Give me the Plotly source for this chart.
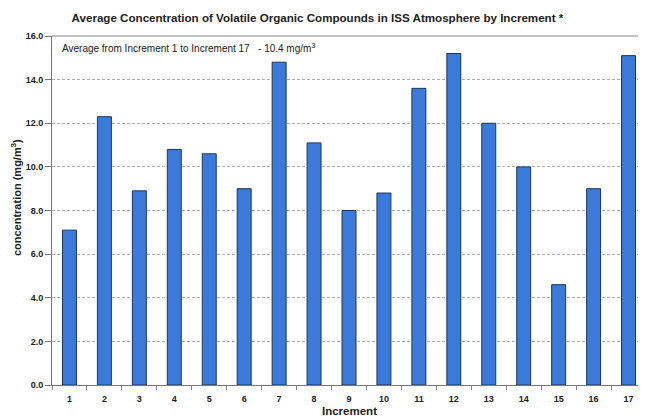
import plotly.graph_objects as go

increments = [str(i) for i in range(1, 18)]
concentration = [7.1, 12.3, 8.9, 10.8, 10.6, 9.0, 14.8, 11.1, 8.0, 8.8,
                 13.6, 15.2, 12.0, 10.0, 4.6, 9.0, 15.1]
y_ticks = [0, 2, 4, 6, 8, 10, 12, 14, 16]
y_tick_labels = [f"{v:.1f}" for v in y_ticks]

title_text = "Average Concentration of Volatile Organic Compounds in ISS Atmosphere by Increment *"
note_text = "Average from Increment 1 to Increment 17   - 10.4 mg/m<sup>3</sup>"
y_title = "concentration (mg/m<sup>3</sup>)"
x_title = "Increment"

# page body has an 8px default margin; figure is sized/offset to compensate
W, H = 638, 410

fig = go.Figure()
fig.add_trace(go.Bar(
    x=increments, y=concentration,
    marker=dict(color="#3c7ad9", line=dict(color="#1d3558", width=1)),
))

font_family = "Liberation Sans, Arial, sans-serif"
txt = "#222"

fig.update_layout(
    width=W, height=H,
    margin=dict(l=44, r=0, t=28, b=33),
    paper_bgcolor="white", plot_bgcolor="white",
    bargap=0.6,
    showlegend=False,
    font=dict(family=font_family, color=txt),
    title=dict(text=title_text, x=0.485, xanchor="center",
               y=1 - 9.5 / H, yanchor="middle",
               font=dict(size=11.6, color=txt, weight="bold")),
    xaxis=dict(
        type="category",
        showline=True, linecolor="#777", linewidth=1,
        ticks="outside", tickson="boundaries", ticklen=4, tickcolor="#888",
        tickfont=dict(size=9, color=txt, weight="bold"),
        ticklabelstandoff=5,
        showgrid=False,
    ),
    yaxis=dict(
        range=[0, 16],
        tickvals=y_ticks, ticktext=y_tick_labels,
        showline=True, linecolor="#777", linewidth=1,
        ticks="outside", ticklen=6, tickcolor="#777",
        tickfont=dict(size=9, color=txt, weight="bold"),
        showgrid=True, gridcolor="#b0b0b0", griddash="3px,2px", gridwidth=0.7,
    ),
    shapes=[dict(type="line", xref="paper", yref="paper", x0=0, x1=1, y0=1, y1=1,
                 line=dict(color="#888", width=1))],
    annotations=[
        dict(text=note_text, xref="paper", yref="paper", x=0.013, y=0.967,
             xanchor="left", yanchor="middle", showarrow=False,
             font=dict(size=10, color=txt)),
        dict(text=y_title, textangle=-90, xref="paper", yref="paper",
             x=-(44 - 7.5) / (W - 44), xanchor="center",
             y=0.537, yanchor="middle", showarrow=False,
             font=dict(size=11, color=txt, weight="bold")),
        dict(text=x_title, xref="paper", yref="paper",
             x=0.5, xanchor="center", y=-26 / (H - 28 - 33),
             yanchor="middle", showarrow=False,
             font=dict(size=11.5, color=txt, weight="bold")),
    ],
)

fig.write_html("out.html")
